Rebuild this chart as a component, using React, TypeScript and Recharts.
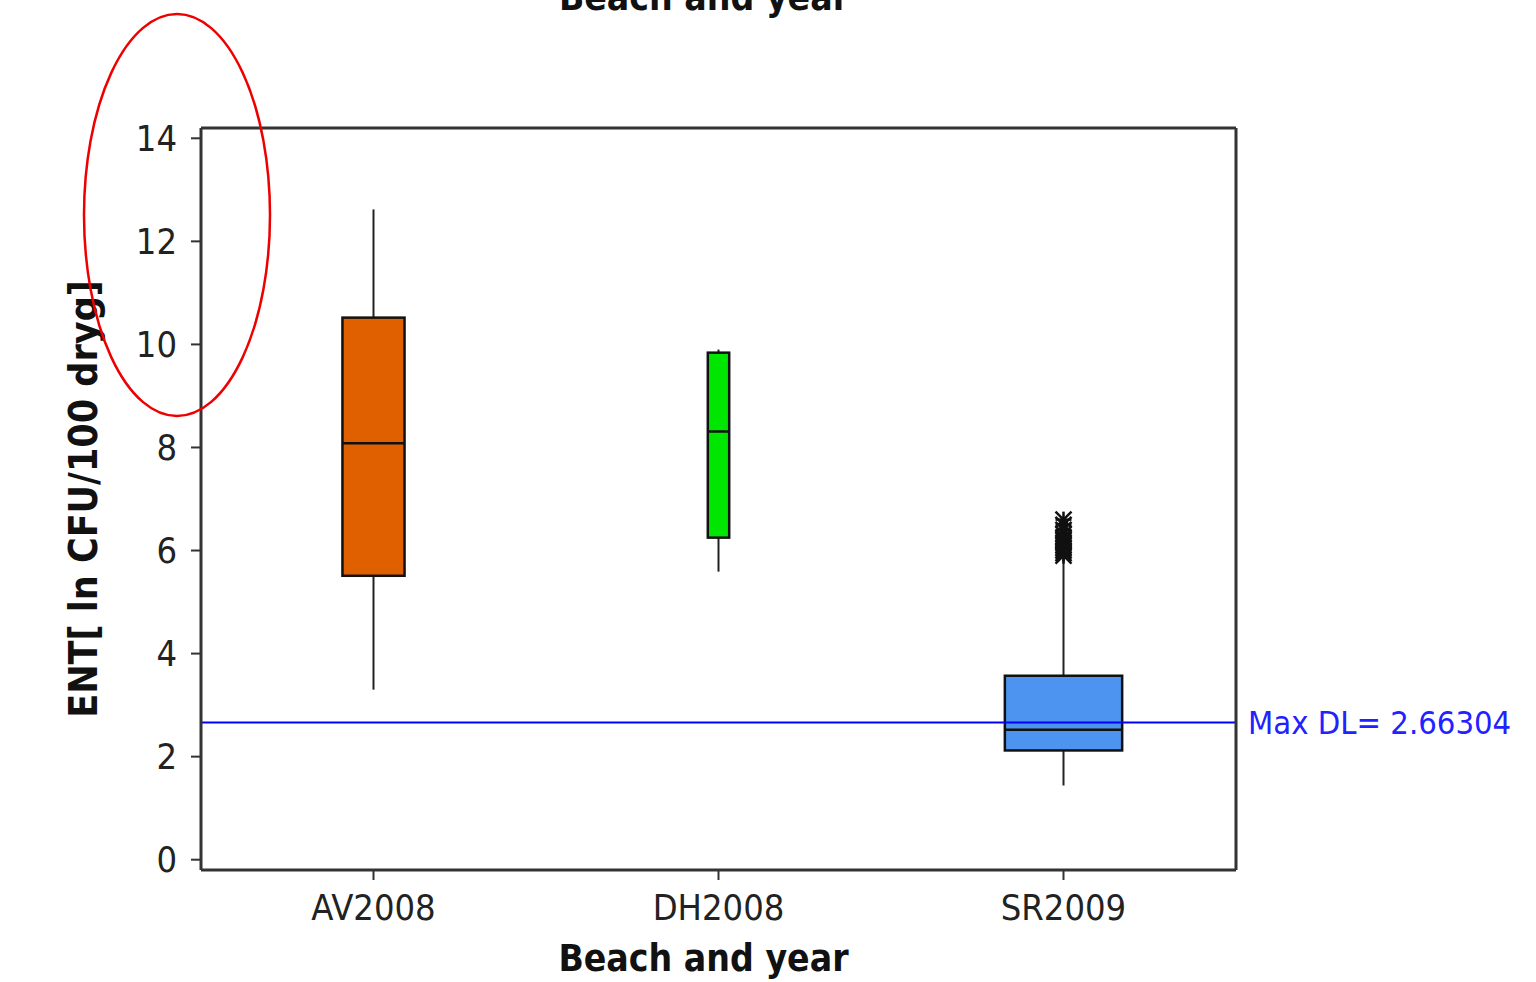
import React from 'react';
import {
  ComposedChart,
  Bar,
  XAxis,
  YAxis,
  ReferenceLine,
} from 'recharts';

const beaches = ['AV2008', 'DH2008', 'SR2009'];
const whiskerLow = [3.3, 5.59, 1.44];
const quartile1 = [5.51, 6.25, 2.12];
const medians = [8.08, 8.31, 2.52];
const quartile3 = [10.52, 9.84, 3.57];
const whiskerHigh = [12.62, 9.9, 5.83];
const srOutliers = [5.9, 5.95, 6.0, 6.05, 6.1, 6.15, 6.2, 6.25, 6.32, 6.4, 6.5, 6.6];
const outliers = [[], [], srOutliers];
const yTicks = [0, 2, 4, 6, 8, 10, 12, 14];
const maxDL = 2.66304;

const boxFill: Record<string, string> = {
  AV2008: '#e06000',
  DH2008: '#00e600',
  SR2009: '#4d94f0',
};
// share of the category band taken by each box
const boxShare: Record<string, number> = {
  AV2008: 0.18,
  DH2008: 0.062,
  SR2009: 0.34,
};

const data = beaches.map((name, i) => ({
  name,
  min: whiskerLow[i],
  q1: quartile1[i],
  median: medians[i],
  q3: quartile3[i],
  max: whiskerHigh[i],
  outliers: outliers[i],
}));

const FONT = '"DejaVu Sans Condensed", "DejaVu Sans", Verdana, sans-serif';

const BoxShape = (props: any) => {
  const { x, y, width, height, payload } = props;
  if (!payload) return null;
  const { min, q1, median, q3, max, name } = payload;
  const ppu = height / (max - min);
  const toY = (v: number) => y + (max - v) * ppu;
  const cx = x + width / 2;
  const bw = width * boxShare[name];
  const line = '#222';
  return (
    <g>
      <line x1={cx} x2={cx} y1={toY(max)} y2={toY(q3)} stroke={line} strokeWidth={2} />
      <line x1={cx} x2={cx} y1={toY(q1)} y2={toY(min)} stroke={line} strokeWidth={2} />
      <rect
        x={cx - bw / 2}
        y={toY(q3)}
        width={bw}
        height={toY(q1) - toY(q3)}
        fill={boxFill[name]}
        stroke="#111"
        strokeWidth={2.5}
      />
      <line x1={cx - bw / 2} x2={cx + bw / 2} y1={toY(median)} y2={toY(median)} stroke="#111" strokeWidth={2.5} />
      {payload.outliers.map((v: number, i: number) => {
        const oy = toY(v);
        const s = 8;
        return (
          <g key={i} stroke="#111" strokeWidth={2.5}>
            <line x1={cx - s} x2={cx + s} y1={oy} y2={oy} />
            <line x1={cx} x2={cx} y1={oy - s} y2={oy + s} />
            <line x1={cx - s} x2={cx + s} y1={oy - s} y2={oy + s} />
            <line x1={cx - s} x2={cx + s} y1={oy + s} y2={oy - s} />
          </g>
        );
      })}
    </g>
  );
};

export default function App() {
  const tickStyle = { fill: '#222', fontSize: 36, fontFamily: FONT };
  const frame = { stroke: '#333', strokeWidth: 3 };
  return (
    <div style={{ position: 'absolute', left: 0, top: 0, width: 1536, height: 982, background: '#fff' }}>
      <ComposedChart
        width={1536}
        height={982}
        data={data}
        margin={{ top: 118, right: 290, bottom: 20, left: 20 }}
        barCategoryGap={0}
      >
        <XAxis
          dataKey="name"
          height={92}
          axisLine={frame}
          tickLine={{ stroke: '#333', strokeWidth: 2 }}
          tickSize={10}
          tickMargin={14}
          tick={tickStyle}
          interval={0}
          label={{
            value: 'Beach and year',
            position: 'insideBottom',
            offset: -9,
            dx: -15,
            style: { fontSize: 37, fontWeight: 'bold', fill: '#111', fontFamily: FONT },
          }}
        />
        <XAxis xAxisId="top" dataKey="name" orientation="top" height={10} axisLine={frame} tick={false} tickLine={false} />
        <YAxis
          width={181}
          domain={[-0.2, 14.2]}
          ticks={yTicks}
          axisLine={frame}
          tickLine={{ stroke: '#333', strokeWidth: 2 }}
          tickSize={10}
          tickMargin={14}
          tick={tickStyle}
          label={{
            value: 'ENT[ ln CFU/100 dryg]',
            angle: -90,
            position: 'insideLeft',
            offset: 63,
            style: { textAnchor: 'middle', fontSize: 39, fontWeight: 'bold', fill: '#111', fontFamily: FONT },
          }}
        />
        <YAxis yAxisId="right" orientation="right" width={10} domain={[-0.2, 14.2]} axisLine={frame} tick={false} tickLine={false} />
        <Bar
          dataKey={(d: any) => [d.min, d.max]}
          shape={BoxShape}
          isAnimationActive={false}
        />
        <ReferenceLine
          y={maxDL}
          stroke="#0000ff"
          strokeWidth={2}
          label={{
            value: `Max DL= ${maxDL}`,
            position: 'right',
            offset: 12,
            style: { fill: '#2222ff', fontSize: 32.5, fontFamily: FONT },
          }}
        />
      </ComposedChart>
      <svg
        width={1536}
        height={982}
        style={{ position: 'absolute', left: 0, top: 0, pointerEvents: 'none' }}
      >
        <text x={704} y={10} textAnchor="middle" fontSize={37} fontWeight="bold" fill="#111" fontFamily={FONT}>
          Beach and year
        </text>
        <ellipse cx={177} cy={215} rx={93} ry={201} fill="none" stroke="#ee0000" strokeWidth={2.5} />
      </svg>
    </div>
  );
}
